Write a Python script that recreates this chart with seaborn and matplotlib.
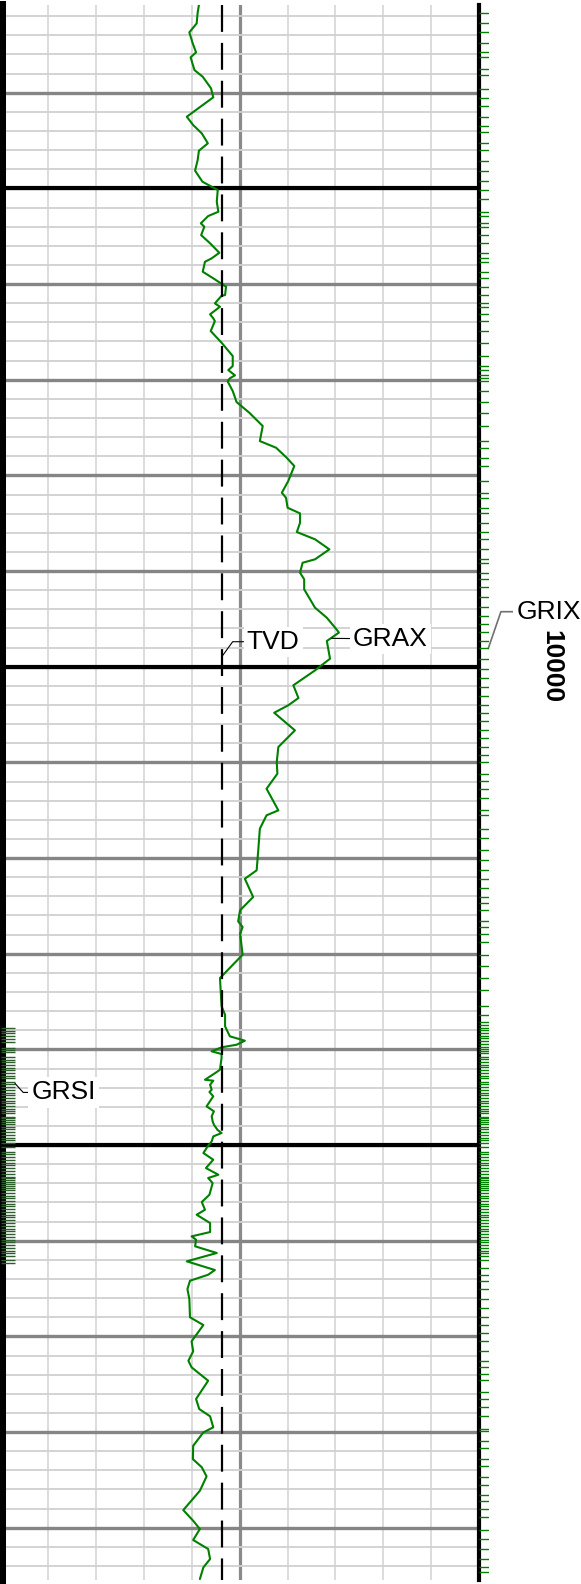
import numpy as np
import pandas as pd
import matplotlib
matplotlib.use("Agg")
import matplotlib.pyplot as plt
import seaborn as sns

# ---- log data -------------------------------------------------------------
grax_depth = [
    9930.83, 9931.64, 9932.75, 9933.69, 9934.78, 9935.78, 9936.30, 9937.63, 9938.33, 9939.54,
    9940.48, 9941.36, 9942.51, 9943.38, 9944.25, 9945.29, 9946.06, 9947.04, 9948.15, 9949.30,
    9950.17, 9951.40, 9952.44, 9952.89, 9953.65, 9954.01, 9954.88, 9955.74, 9956.73, 9957.31,
    9957.67, 9958.71, 9959.40, 9960.28, 9961.15, 9961.22, 9962.02, 9962.37, 9963.16, 9963.58,
    9963.87, 9964.91, 9966.13, 9967.52, 9968.57, 9968.99, 9969.54, 9969.85, 9970.17, 9971.18,
    9972.33, 9973.45, 9974.84, 9976.41, 9977.11, 9978.15, 9979.02, 9980.59, 9981.81, 9982.34,
    9983.38, 9983.97, 9984.95, 9985.92, 9986.68, 9987.73, 9988.77, 9989.13, 9990.17, 9990.86,
    9991.91, 9993.83, 9994.88, 9995.92, 9996.43, 9997.31, 9999.16, 10000.38, 10001.94, 10003.27,
    10004.03, 10004.81, 10006.65, 10008.39, 10009.96, 10011.18, 10012.75, 10015.01, 10015.53, 10016.93,
    10019.19, 10021.28, 10022.16, 10024.07, 10025.46, 10026.61, 10027.21, 10027.91, 10030.10, 10032.54,
    10035.50, 10036.38, 10037.59, 10038.63, 10039.09, 10039.51, 10039.78, 10040.20, 10040.48, 10040.90,
    10042.12, 10042.36, 10043.17, 10043.27, 10043.69, 10044.21, 10044.45, 10044.90, 10045.95, 10046.47,
    10046.99, 10047.52, 10047.87, 10048.40, 10048.74, 10049.09, 10049.61, 10050.31, 10050.83, 10051.53,
    10052.40, 10053.10, 10053.44, 10053.97, 10055.19, 10055.95, 10056.76, 10057.28, 10058.15, 10059.09,
    10059.54, 10059.89, 10060.58, 10061.28, 10062.15, 10063.06, 10063.55, 10064.18, 10065.05, 10066.09,
    10068.00, 10068.81, 10070.51, 10071.56, 10072.54, 10073.23, 10074.63, 10076.54, 10077.59, 10078.35,
    10079.50, 10080.03, 10081.43, 10082.82, 10083.68, 10084.63, 10086.13, 10088.15, 10089.27, 10090.13,
    10091.28, 10092.22, 10093.27, 10094.14, 10095.36,
]
grax_value = [
    62.2, 61.8, 61.5, 59.2, 60.2, 61.3, 59.6, 60.8, 63.4, 66.0,
    66.7, 63.1, 58.4, 60.4, 63.1, 65.0, 62.2, 61.8, 61.0, 63.3,
    68.1, 67.8, 68.3, 65.1, 62.8, 63.9, 62.9, 65.7, 68.6, 66.2,
    64.1, 63.4, 66.7, 70.7, 70.4, 69.3, 67.2, 68.8, 65.7, 66.7,
    67.2, 65.9, 69.3, 72.8, 72.8, 71.4, 73.5, 71.9, 71.2, 72.8,
    74.0, 78.0, 82.2, 81.3, 86.4, 89.7, 92.1, 90.2, 88.2, 89.5,
    90.0, 93.9, 93.9, 92.9, 98.6, 103.1, 98.6, 94.7, 93.9, 95.2,
    95.2, 98.6, 102.3, 104.9, 106.1, 102.3, 103.3, 98.6, 91.8, 93.4,
    90.2, 85.8, 92.3, 87.1, 86.6, 86.8, 83.4, 87.1, 83.4, 81.3,
    80.8, 80.3, 76.6, 79.2, 75.1, 74.5, 75.9, 75.1, 75.9, 68.8,
    69.3, 70.4, 70.4, 71.9, 76.6, 74.0, 69.3, 66.2, 69.3, 69.3,
    68.8, 67.8, 64.1, 66.7, 65.7, 66.2, 65.5, 66.7, 64.6, 66.9,
    66.2, 66.5, 66.9, 68.0, 69.3, 66.7, 66.2, 64.6, 63.6, 66.7,
    64.4, 68.3, 65.1, 66.5, 65.5, 63.1, 64.1, 61.5, 65.7, 65.7,
    59.9, 61.3, 61.0, 67.8, 58.4, 67.2, 65.1, 59.4, 58.6, 59.2,
    59.4, 63.6, 59.9, 60.4, 58.9, 59.9, 65.1, 61.3, 62.3, 65.7,
    66.7, 63.6, 60.4, 60.3, 63.1, 64.6, 62.5, 57.3, 60.4, 62.5,
    60.4, 65.1, 65.7, 63.6, 62.5,
]

# GRIX sample depths
grix_depth = [
    9931.64, 9932.69, 9933.69, 9934.78, 9935.72, 9936.30, 9937.53, 9938.12, 9939.59, 9940.53,
    9941.36, 9942.51, 9943.48, 9944.08, 9945.23, 9946.02, 9947.17, 9948.16, 9949.26, 9950.20,
    9951.15, 9952.44, 9952.89, 9953.65, 9954.01, 9954.88, 9955.74, 9956.73, 9957.31, 9957.67,
    9958.71, 9959.40, 9960.28, 9961.15, 9962.02, 9962.37, 9963.16, 9963.87, 9964.91, 9966.13,
    9967.52, 9968.57, 9968.99, 9969.54, 9969.85, 9970.17, 9971.18, 9972.33, 9973.45, 9974.84,
    9976.41, 9977.11, 9978.15, 9979.02, 9980.59, 9981.81, 9982.34, 9983.38, 9983.97, 9984.95,
    9985.92, 9986.68, 9987.73, 9988.77, 9989.13, 9990.17, 9990.86, 9991.64, 9992.75, 9993.73,
    9994.67, 9995.57, 9996.41, 9997.31, 9998.08, 9999.20, 10000.27, 10001.21, 10002.09, 10003.06,
    10004.03, 10004.81, 10005.68, 10006.65, 10007.45, 10008.39, 10009.23, 10009.96, 10011.18, 10011.95,
    10012.75, 10013.73, 10015.01, 10015.53, 10016.93, 10017.91, 10019.19, 10020.21, 10021.28, 10022.16,
    10023.13, 10024.07, 10024.70, 10025.46, 10026.61, 10027.21, 10027.91, 10028.78, 10030.10, 10031.29,
    10032.54, 10033.79, 10035.47, 10036.41,
    10037.14, 10037.45, 10037.71, 10038.02, 10038.30, 10038.58, 10038.84, 10039.13, 10039.40, 10039.70,
    10039.95, 10040.20, 10040.42,
    10040.77, 10041.05, 10041.33, 10041.62, 10041.88, 10042.17, 10042.45, 10042.74, 10043.02,
    10043.38, 10043.66, 10043.95, 10044.22, 10044.51, 10044.79, 10045.06, 10045.36, 10045.62, 10045.90,
    10046.18, 10046.42, 10046.68,
    10047.04, 10047.22, 10047.42, 10047.60, 10047.80, 10048.08, 10048.37, 10048.65, 10048.93, 10049.22,
    10049.50, 10049.80, 10050.17,
    10050.70, 10050.98, 10051.27, 10051.55, 10051.84, 10052.12, 10052.40, 10052.70, 10052.98, 10053.31,
    10053.48, 10053.66, 10053.85, 10054.04, 10054.24, 10054.45, 10054.70,
    10054.98, 10055.27, 10055.55, 10055.83, 10056.12, 10056.40, 10056.69, 10056.97, 10057.26, 10057.55,
    10057.84,
    10058.18, 10058.47, 10058.75, 10059.03, 10059.32, 10059.60, 10059.89, 10060.17, 10060.46, 10060.74,
    10061.03, 10061.31, 10061.60, 10062.02,
    10062.85, 10063.55, 10064.18, 10065.05, 10066.09, 10067.03, 10068.00, 10068.81, 10069.64, 10070.51,
    10071.56, 10072.54, 10073.23, 10073.93, 10074.56, 10075.78, 10076.55, 10077.41, 10078.32, 10079.71,
    10079.86, 10080.90, 10081.70, 10082.79, 10083.55, 10084.67, 10085.57, 10086.58, 10087.18, 10088.07,
    10088.85, 10090.24, 10091.21, 10092.22, 10093.27, 10094.07, 10094.66,
]

# GRSI sample depths (high-resolution interval)
grsi_depth = [
    10037.77, 10038.05, 10038.33, 10038.62, 10038.90, 10039.18,
    10039.86, 10040.07, 10040.27,
    10040.80, 10041.08, 10041.36, 10041.64, 10041.92, 10042.20, 10042.48, 10042.76, 10042.99,
    10043.38, 10043.66, 10043.95, 10044.22, 10044.51, 10044.79, 10045.06, 10045.36, 10045.62, 10045.90,
    10046.18, 10046.42, 10046.68,
    10047.04, 10047.22, 10047.42, 10047.60, 10047.80, 10048.08, 10048.37, 10048.65, 10048.93, 10049.22,
    10049.50, 10049.80, 10050.17,
    10050.70, 10050.98, 10051.27, 10051.55, 10051.84, 10052.12, 10052.40, 10052.70, 10052.98, 10053.31,
    10053.48, 10053.66, 10053.85, 10054.04, 10054.24, 10054.45, 10054.70,
    10054.98, 10055.27, 10055.55, 10055.83, 10056.12, 10056.40, 10056.69, 10056.97, 10057.26, 10057.55,
    10057.84,
    10058.18, 10058.47, 10058.75, 10059.03, 10059.32, 10059.60, 10059.89, 10060.17, 10060.46, 10060.74,
    10061.03, 10061.31, 10061.60, 10062.02, 10062.33,
]

tvd_md = [9930.83, 10095.46]
tvd_value = [9963.5, 9963.5]

depth_labels = [10000]

# ---- scales ---------------------------------------------------------------
depth_top, depth_bottom = 9930.83, 10095.46
gr_min, gr_max = 0, 150
tvd_min, tvd_max = 9500, 10500

W, H = 581, 1584
sns.set_style("white")
plt.rcParams["font.family"] = ["Liberation Sans", "DejaVu Sans"]
plt.rcParams["text.color"] = "black"

fig = plt.figure(figsize=(W / 100, H / 100), dpi=100)
ax = fig.add_axes([0.5 / W, 4 / H, 478.5 / W, 1575 / H])
ax.set_xlim(gr_min, gr_max)
ax.set_ylim(depth_bottom, depth_top)

# track grid
ax.set_xticks([75])
ax.set_xticks([15, 30, 45, 60, 90, 105, 120, 135], minor=True)
ax.yaxis.set_major_locator(matplotlib.ticker.MultipleLocator(10))
ax.yaxis.set_minor_locator(matplotlib.ticker.MultipleLocator(2))
ax.grid(which="minor", axis="x", color="#d6d6d6", lw=1.2)
ax.grid(which="major", axis="x", color="#8a8a8a", lw=2.3)
ax.grid(which="minor", axis="y", color="#d0d0d0", lw=1.3)
ax.grid(which="major", axis="y", color="#858585", lw=2.4)
ax.set_axisbelow(True)
ax.tick_params(which="both", length=0, labelbottom=False, labelleft=False)
for d in np.arange(np.ceil(depth_top / 50) * 50, depth_bottom, 50):
    ax.axhline(d, color="black", lw=3.0, zorder=1)

ax.spines["top"].set_visible(False)
ax.spines["bottom"].set_visible(False)
ax.spines["left"].set_linewidth(6.5)
ax.spines["right"].set_linewidth(3.0)
for s in ("left", "right"):
    ax.spines[s].set_color("black")

# GRAX curve
grax = pd.DataFrame({"depth": grax_depth, "GRAX": grax_value})
sns.lineplot(data=grax, x="GRAX", y="depth", sort=False, estimator=None,
             color="#008000", lw=1.5, ax=ax, zorder=3)

# GRSI sample ticks on the left edge
sns.rugplot(y=grsi_depth, ax=ax, height=0.0303, color="#2d5f2d", lw=2.3,
            expand_margins=False, zorder=4)

# TVD on its own scale
tax = ax.twiny()
tax.set_xlim(tvd_min, tvd_max)
tvd = pd.DataFrame({"depth": tvd_md, "TVD": tvd_value})
sns.lineplot(data=tvd, x="TVD", y="depth", sort=False, estimator=None,
             color="black", lw=1.6, ax=tax, linestyle=(0, (12.1, 4.95)))
tax.axis("off")
tax.set_ylim(depth_bottom, depth_top)

# GRIX sample ticks outside the right edge
rax = fig.add_axes([479 / W, 4 / H, 10 / W, 1575 / H], sharey=ax)
rax.axis("off")
sns.rugplot(y=grix_depth, ax=rax, height=1.0, color="#008000", lw=1.6,
            expand_margins=False)
rax.set_ylim(depth_bottom, depth_top)

# curve labels
box = dict(boxstyle="square,pad=0.12", fc="white", ec="none")
fs = 19
tax.annotate("TVD", xy=(tvd_value[0], 9998.88), xytext=(17.6, 10.3),
             textcoords="offset points", ha="left", va="center", fontsize=fs,
             bbox=box, zorder=6,
             arrowprops=dict(arrowstyle="-", color="black", lw=0.8, shrinkA=0, shrinkB=0,
                             connectionstyle="angle,angleA=0,angleB=54,rad=0"))
tax.annotate("GRAX", xy=(103.8 * (tvd_max - tvd_min) / gr_max + tvd_min, 9997.03),
             xytext=(15.3, -0.5),
             textcoords="offset points", ha="left", va="center", fontsize=fs,
             bbox=box, zorder=6,
             arrowprops=dict(arrowstyle="-", color="black", lw=0.8, shrinkA=0, shrinkB=0))
ax.annotate("GRIX", xy=(1.0194, 9998.08), xycoords=("axes fraction", "data"),
            xytext=(20.4, 26.4), textcoords="offset points", ha="left", va="center",
            fontsize=fs, bbox=box, annotation_clip=False, zorder=6,
            arrowprops=dict(arrowstyle="-", color="#707070", lw=1.2, shrinkA=0, shrinkB=0,
                            connectionstyle="angle,angleA=0,angleB=71,rad=0"))
ax.annotate("GRSI", xy=(0.0303, 10043.55), xycoords=("axes fraction", "data"),
            xytext=(12.0, -6.5), textcoords="offset points", ha="left", va="center",
            fontsize=fs, bbox=box, zorder=6,
            arrowprops=dict(arrowstyle="-", color="black", lw=0.8, shrinkA=0, shrinkB=0,
                            connectionstyle="angle,angleA=0,angleB=-48,rad=0"))

# depth labels
for d in depth_labels:
    ax.text(1.1505, d, f"{d}", transform=ax.get_yaxis_transform(), rotation=-90,
            ha="center", va="center", fontsize=fs, fontweight="bold", clip_on=False)

fig.savefig("out.png", dpi=100)
